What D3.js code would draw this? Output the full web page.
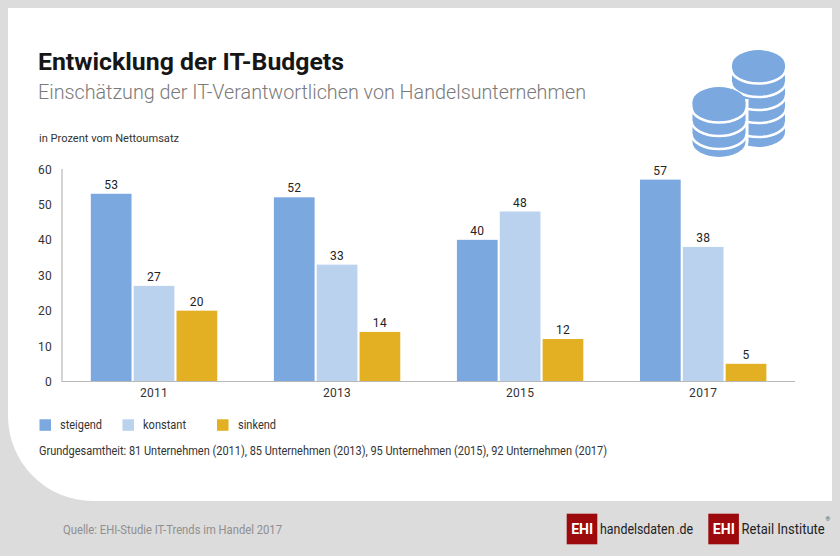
<!DOCTYPE html>
<html><head><meta charset="utf-8">
<script src="https://cdn.jsdelivr.net/npm/d3@7"></script>
<style>
html,body{margin:0;padding:0;background:#dcdcdc}
svg{display:block}
text{font-family:Roboto,sans-serif}
</style></head><body>
<svg id="c" width="840" height="556"></svg>
<script>
const years = ["2011","2013","2015","2017"];
const seriesNames = ["steigend","konstant","sinkend"];
const seriesColors = ["#7aa8df","#bbd2ee","#e2b022"];
const steigend = [53,52,40,57];
const konstant = [27,33,48,38];
const sinkend = [20,14,12,5];
const yTicks = [0,10,20,30,40,50,60];
const seriesValues = [steigend,konstant,sinkend];

const svg = d3.select("#c");
svg.append("rect").attr("width",840).attr("height",556).attr("fill","#dcdcdc");
svg.append("path").attr("fill","#fff")
  .attr("d","M8 8H832V501H93A85 85 0 0 1 8 416Z");

const txt=(x,y,s,size,fill,weight,anchor)=>svg.append("text").attr("x",x).attr("y",y).text(s)
  .attr("font-size",size).attr("fill",fill).attr("font-weight",weight||400).attr("text-anchor",anchor||"start");
const fit=(sel,len)=>sel.attr("textLength",len).attr("lengthAdjust","spacingAndGlyphs");

fit(txt(38,70,"Entwicklung der IT-Budgets",24.5,"#161616",700),306);
fit(txt(38,99,"Einschätzung der IT-Verantwortlichen von Handelsunternehmen",20,"#7a7a7a",300),548);
fit(txt(39,142,"in Prozent vom Nettoumsatz",11.5,"#333"),140);

const x0=d3.scaleBand().domain(years).range([62.5,794.7]);
const x1=d3.scaleBand().domain(seriesNames).range([-63.2,63.2]).paddingInner(0.05);
const y=d3.scaleLinear().domain([0,60]).range([381.5,169]);

yTicks.forEach(t=>txt(52,y(t)+4.5,t,12,"#333",400,"end").attr("letter-spacing",0.3));

const groups=svg.selectAll("g.year").data(years).join("g").attr("class","year")
  .attr("transform",d=>`translate(${x0(d)+x0.bandwidth()/2},0)`);
seriesNames.forEach((name,si)=>{
  groups.append("rect")
    .attr("x",x1(name)).attr("width",x1.bandwidth())
    .attr("y",(d,i)=>y(seriesValues[si][i]))
    .attr("height",(d,i)=>y(0)-y(seriesValues[si][i]))
    .attr("fill",seriesColors[si]);
  groups.append("text")
    .attr("x",x1(name)+x1.bandwidth()/2)
    .attr("y",(d,i)=>y(seriesValues[si][i])-5)
    .attr("text-anchor","middle").attr("font-size",12).attr("fill","#222").attr("letter-spacing",0.3)
    .text((d,i)=>seriesValues[si][i]);
});
groups.append("text").attr("y",397).attr("text-anchor","middle").attr("font-size",12).attr("fill","#333").attr("letter-spacing",0.3).text(d=>d);

svg.append("path").attr("fill","none").attr("stroke","#b8b8b8").attr("stroke-width",1.2)
  .attr("d",`M62 169V${y(0)}H795`);

const legX=[39.5,122.5,217], legT=[60,143,238], legW=[42,43,38];
seriesNames.forEach((n,i)=>{
  svg.append("rect").attr("x",legX[i]).attr("y",419.3).attr("width",11.5).attr("height",11.5).attr("fill",seriesColors[i]);
  fit(txt(legT[i],429,n,12,"#333"),legW[i]);
});
fit(txt(39,455,"Grundgesamtheit: 81 Unternehmen (2011), 85 Unternehmen (2013), 95 Unternehmen (2015), 92 Unternehmen (2017)",12,"#333"),568);
fit(txt(63,534,"Quelle: EHI-Studie IT-Trends im Handel 2017",12.5,"#8f8f8f"),219);

// coin stacks icon
function stack(cx,topY,rx,ry,arcs,bodyY,halo){
  const g=svg.append("g");
  const body=`M${cx-rx} ${topY}V${bodyY}A${rx} ${ry} 0 0 0 ${cx+rx} ${bodyY}V${topY}Z`;
  if(halo) g.append("path").attr("d",body).attr("fill","#fff").attr("stroke","#fff").attr("stroke-width",6);
  g.append("path").attr("fill","#7aa8df").attr("d",body);
  arcs.forEach(a=>g.append("path").attr("fill","none").attr("stroke","#fff").attr("stroke-width",2.6)
      .attr("d",`M${cx-rx-1} ${a}A${rx+1} ${ry} 0 0 0 ${cx+rx+1} ${a}`));
  g.append("ellipse").attr("cx",cx).attr("cy",topY).attr("rx",rx).attr("ry",ry).attr("fill","#7aa8df");
}
stack(758.5,65,26.5,15,[68.5,82,95,108,122],132,false);
stack(719,102,26.5,15,[107.5,121,134],142,true);

// logos
function logo(x,y0){
  svg.append("rect").attr("x",x).attr("y",y0).attr("width",30.6).attr("height",30.6).attr("fill","#9c0a0e");
  fit(txt(x+4.5,y0+20.5,"EHI",15,"#fff",700),22);
}
logo(566.7,513.7);
logo(708.3,513.7);
const cond=(x,s,fill,k)=>svg.append("text").attr("transform",`translate(${x},534) scale(${k},1)`)
  .attr("font-size",15.5).attr("fill",fill).text(s);
cond(600,"handelsdaten","#222",0.8);
cond(676.6,".","#b01015",0.8);
cond(679.6,"de","#222",0.8);
cond(741.5,"Retail Institute","#222",0.84);
txt(825.5,521,"®",6,"#555");
</script>
</body></html>
